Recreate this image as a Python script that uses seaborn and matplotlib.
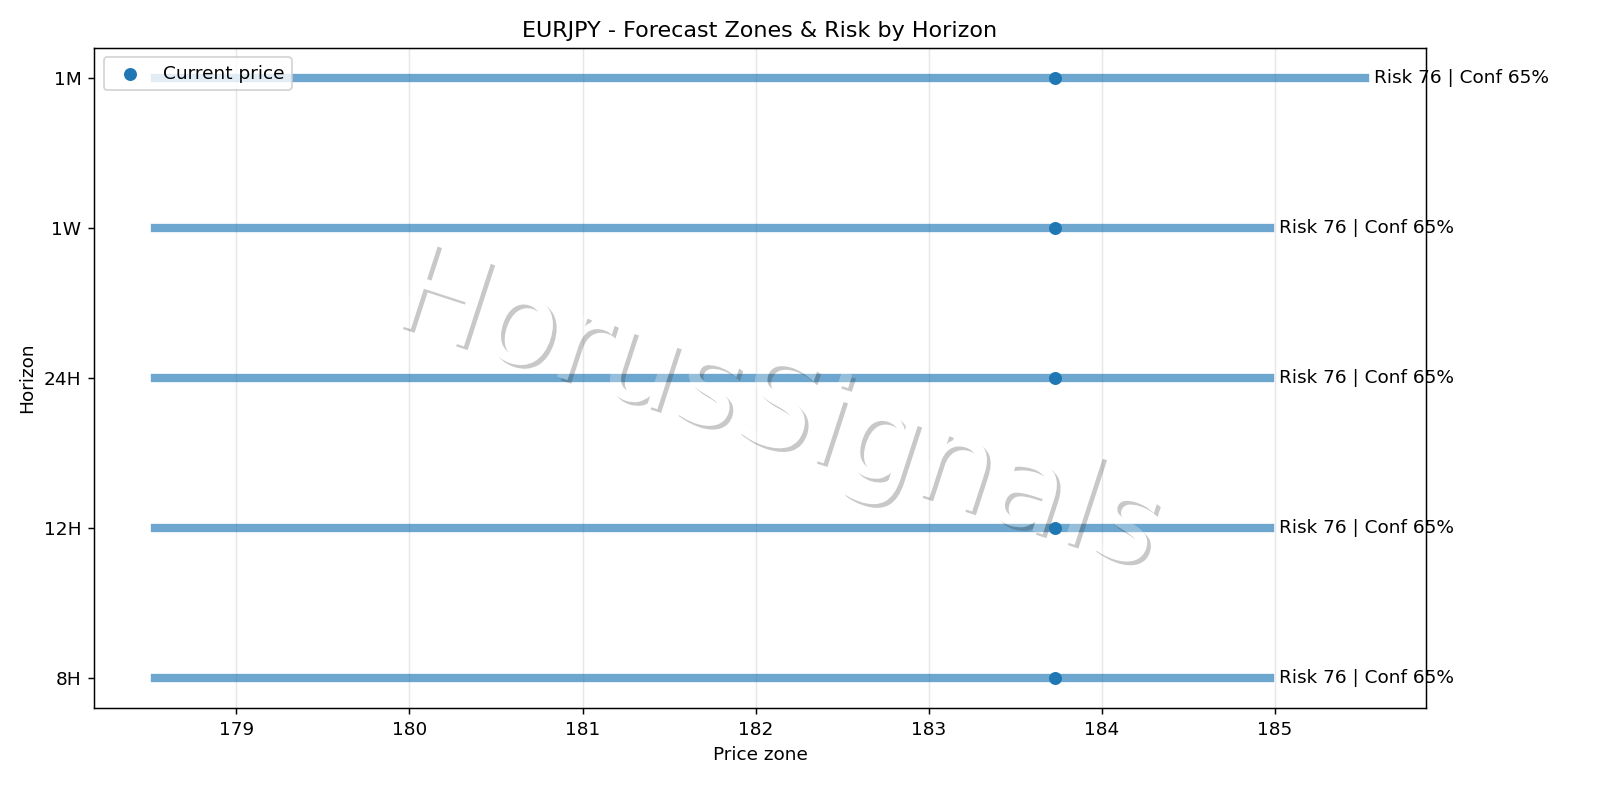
import matplotlib
matplotlib.use("Agg")
import matplotlib.pyplot as plt
import matplotlib.patheffects as pe
import seaborn as sns

# --- data ---
horizons = ["8H", "12H", "24H", "1W", "1M"]
zone_low = [178.53, 178.53, 178.53, 178.53, 178.53]
zone_high = [184.97, 184.97, 184.97, 184.97, 185.52]
current_price = [183.73, 183.73, 183.73, 183.73, 183.73]
risk_score = [76, 76, 76, 76, 76]
confidence = [65, 65, 65, 65, 65]

blue = "#1f77b4"


# fade the whole watermark (text + shadow) as one layer
def fade(img, dpi):
    img = img.copy()
    img[..., 3] *= 0.28
    return img, 0, 0


fig, ax = plt.subplots(figsize=(12, 6), dpi=1600 / 12)
fig.subplots_adjust(left=0.059, right=0.891, top=0.94, bottom=0.115)

# forecast zones as thick horizontal bars
for h, lo, hi in zip(horizons, zone_low, zone_high):
    ax.plot([lo, hi], [h, h], color=blue, linewidth=4.5, alpha=0.65)

# current price markers
sns.scatterplot(x=current_price, y=horizons, ax=ax, color=blue, s=36,
                edgecolor=blue, linewidth=1, label="Current price", zorder=3)
if ax.yaxis_inverted():
    ax.invert_yaxis()

# risk / confidence labels at the right end of each zone
for h, hi, r, c in zip(horizons, zone_high, risk_score, confidence):
    ax.text(hi + 0.05, ax.yaxis.convert_units(h), f"Risk {r} | Conf {c}%",
            va="center", ha="left", fontsize=10)

ax.grid(axis="x", alpha=0.3)
ax.set_title("EURJPY - Forecast Zones & Risk by Horizon")
ax.set_xlabel("Price zone")
ax.set_ylabel("Horizon")
ax.legend(loc="upper left")

# watermark
wm = ax.text(0.513, 0.447, "HorusSignals", transform=ax.transAxes, fontsize=66,
             color="white", rotation=-18, ha="center", va="center", zorder=5,
             path_effects=[pe.SimplePatchShadow(shadow_rgbFace="#3c3c3c", alpha=1.0),
                           pe.Normal()])
wm.set_agg_filter(fade)

fig.savefig("out.png")
